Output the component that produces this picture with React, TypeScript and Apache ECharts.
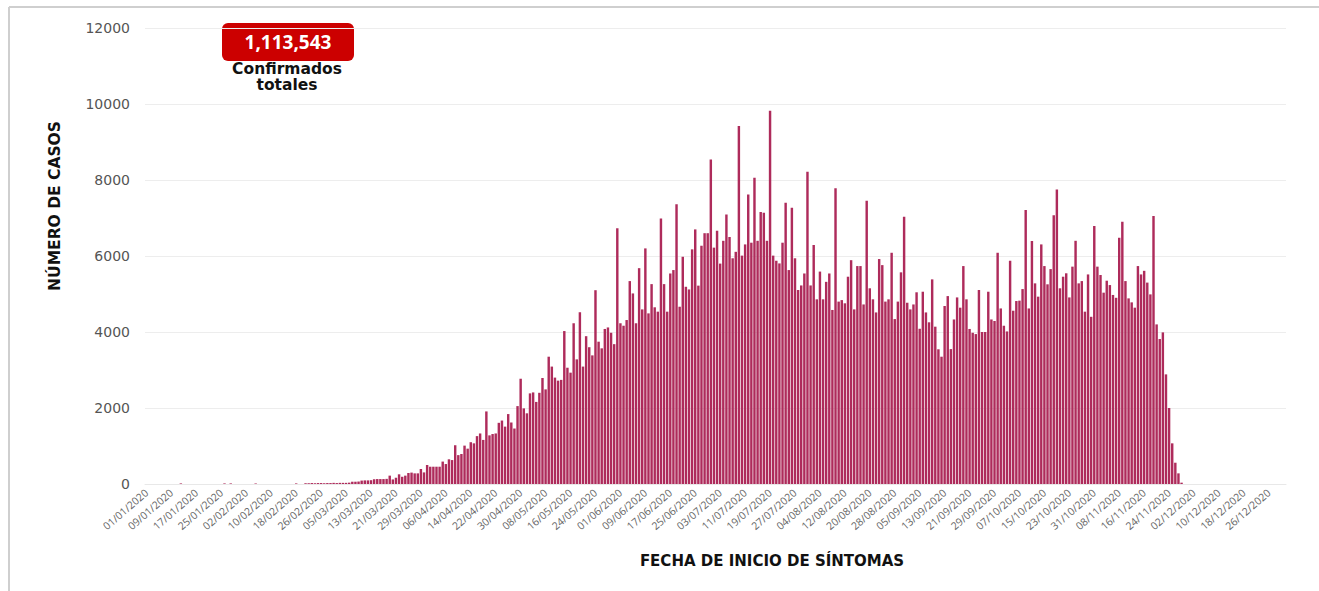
import React, { useEffect, useRef } from "react";
import * as echarts from "echarts";

// Category: one day per bar, 2020 (leap year)
const START_YEAR = 2020;
const DAY_COUNT = 366;

// Daily confirmed cases by symptom-onset date (index 0 = 01/01/2020)
const casesJanMar: number[] = [
  0, 0, 0, 0, 0, 0, 0, 0, 0, 0,
  0, 15, 0, 0, 0, 0, 0, 0, 0, 0,
  0, 0, 0, 0, 0, 15, 0, 15, 0, 0,
  0, 0, 0, 0, 0, 15, 0, 0, 0, 0,
  0, 0, 0, 0, 0, 0, 0, 0, 15, 0,
  0, 20, 20, 25, 20, 25, 25, 20, 25, 25,
  30, 25, 30, 30, 30, 35, 60, 60, 65, 90,
  95, 95, 100, 125, 130, 130, 130, 135, 220, 120,
  165, 255, 190, 220, 290, 300, 280, 280, 395, 305,
];
const casesAprJun: number[] = [
  500, 455, 455, 455, 455, 590, 525, 650, 630, 1020,
  760, 790, 1010, 930, 1100, 1070, 1260, 1330, 1160, 1910,
  1280, 1315, 1330, 1610, 1670, 1510, 1840, 1620, 1460, 2050,
  2770, 1990, 1860, 2385, 2410, 2160, 2400, 2790, 2490, 3350,
  3090, 2800, 2720, 2740, 4025, 3060, 2930, 4230, 3280, 4520,
  3090, 3890, 3600, 3385, 5100, 3745, 3570, 4080, 4120, 3980,
  3680, 6730, 4230, 4165, 4315, 5340, 5015, 4230, 5680, 4595,
  6200, 4490, 5260, 4650, 4535, 6990, 5260, 4535, 5540, 5630,
  7365, 4665, 5980, 5190, 5120, 6175, 6700, 5220, 6270, 6600,
];
const casesJulSep: number[] = [
  6600, 8540, 6220, 6665, 5800, 6400, 7090, 6500, 5940, 6110,
  9420, 6010, 6305, 7620, 6350, 8060, 6400, 7155, 7140, 6400,
  9820, 6010, 5875, 5805, 6350, 7400, 5630, 7270, 5940, 5105,
  5225, 5540, 8220, 5225, 6290, 4860, 5590, 4860, 5320, 5540,
  4580, 7780, 4800, 4840, 4755, 5455, 5890, 4595, 5735, 5735,
  4725, 7455, 5150, 4860, 4515, 5920, 5760, 4800, 4860, 6085,
  4340, 4800, 5570, 7035, 4770, 4595, 4725, 5045, 4085, 5060,
  4515, 4255, 5385, 4140, 3545, 3350, 4685, 4945, 3550, 4330,
  4910, 4640, 5735, 4860, 4080, 3980, 3945, 5105, 4000, 4000,
];
const casesOctDec: number[] = [
  5060, 4330, 4290, 6085, 4620, 4165, 4015, 5875, 4560, 4815,
  4825, 5130, 7210, 4620, 6395, 5280, 4930, 6305, 5735, 5255,
  5655, 7075, 7750, 5150, 5455, 5545, 4910, 5720, 6400, 5280,
  5340, 4535, 5515, 4400, 6790, 5720, 5500, 5035, 5350, 5235,
  4975, 4900, 6480, 6900, 5340, 4885, 4780, 4640, 5735, 5515,
  5610, 5300, 4990, 7050, 4200, 3815, 3990, 2885, 2000, 1070,
  560, 280, 35,
];

const yTicks = [0, 2000, 4000, 6000, 8000, 10000, 12000];
const totalConfirmed = "1,113,543";
const totalLabel = "Confirmados\ntotales";
const xTitle = "FECHA DE INICIO DE SÍNTOMAS";
const yTitle = "NÚMERO DE CASOS";

function buildDates(): string[] {
  const out: string[] = [];
  for (let i = 0; i < DAY_COUNT; i++) {
    const d = new Date(START_YEAR, 0, 1 + i);
    const dd = String(d.getDate()).padStart(2, "0");
    const mm = String(d.getMonth() + 1).padStart(2, "0");
    out.push(`${dd}/${mm}/${d.getFullYear()}`);
  }
  return out;
}

export default function App() {
  const ref = useRef<HTMLDivElement>(null);
  useEffect(() => {
    if (!ref.current) return;
    const chart = echarts.init(ref.current, null, { renderer: "svg" });
    const dates = buildDates();
    const values = [...casesJanMar, ...casesAprJun, ...casesJulSep, ...casesOctDec];
    const font = "'Open Sans', sans-serif";
    const wide = "'DejaVu Sans', sans-serif";
    chart.setOption({
      animation: false,
      backgroundColor: "#ffffff",
      textStyle: { fontFamily: font },
      grid: { left: 145, right: 33, top: 28, bottom: 107, containLabel: false },
      xAxis: {
        type: "category",
        data: dates,
        boundaryGap: true,
        axisTick: { show: false },
        axisLine: { show: true, lineStyle: { color: "#e8e8e8", width: 1 } },
        axisLabel: {
          interval: 7,
          rotate: 41,
          fontSize: 10.5,
          color: "#666",
          margin: 7,
          fontFamily: font,
        },
      },
      yAxis: {
        type: "value",
        min: yTicks[0],
        max: yTicks[yTicks.length - 1],
        interval: 2000,
        axisLine: { show: false },
        axisTick: { show: false },
        axisLabel: {
          fontSize: 14,
          color: "#555",
          margin: 15,
          fontFamily: wide,
          formatter: (v: number) => String(v),
        },
        splitLine: { lineStyle: { color: "#ededed", width: 1 } },
      },
      series: [
        {
          type: "bar",
          data: values,
          barCategoryGap: "22%",
          itemStyle: { color: "#ae2b5b" },
        },
      ],
      graphic: [
        {
          type: "line",
          shape: { x1: 9, y1: 7, x2: 1319, y2: 7 },
          style: { stroke: "#cfcfcf", lineWidth: 2 },
        },
        {
          type: "line",
          shape: { x1: 9, y1: 7, x2: 9, y2: 591 },
          style: { stroke: "#cfcfcf", lineWidth: 2 },
        },
        {
          type: "rect",
          shape: { x: 222, y: 23, width: 132, height: 38, r: 6 },
          style: { fill: "#cc0000" },
        },
        {
          type: "text",
          x: 288,
          y: 42,
          style: {
            text: totalConfirmed,
            fill: "#ffffff",
            font: `bold 19px ${font}`,
            textAlign: "center",
            textVerticalAlign: "middle",
          },
        },
        {
          type: "text",
          x: 287,
          y: 77,
          style: {
            text: totalLabel,
            fill: "#111",
            font: `bold 15.5px ${wide}`,
            lineHeight: 16,
            textAlign: "center",
            textVerticalAlign: "middle",
          },
        },
        {
          type: "text",
          x: 772,
          y: 561,
          style: {
            text: xTitle,
            fill: "#111",
            font: `bold 15px ${wide}`,
            textAlign: "center",
            textVerticalAlign: "middle",
          },
        },
        {
          type: "text",
          x: 55,
          y: 206,
          rotation: Math.PI / 2,
          style: {
            text: yTitle,
            fill: "#111",
            font: `bold 15.5px ${wide}`,
            textAlign: "center",
            textVerticalAlign: "middle",
          },
        },
      ],
    });
    return () => chart.dispose();
  }, []);
  return (
    <div
      ref={ref}
      style={{ position: "fixed", left: 0, top: 0, width: 1319, height: 591 }}
    />
  );
}
